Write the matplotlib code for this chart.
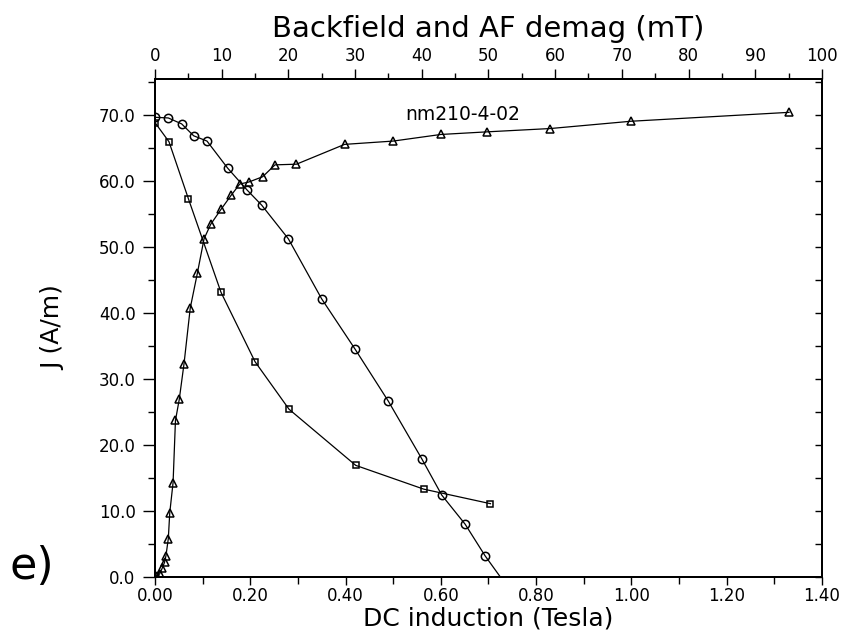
import matplotlib
matplotlib.use('Agg')
import matplotlib.pyplot as plt
from matplotlib.ticker import MultipleLocator, FormatStrFormatter

# IRM acquisition (DC induction, Tesla)
irm_field = [0.000, 0.005, 0.010, 0.015, 0.020, 0.023, 0.028, 0.031, 0.038, 0.043,
             0.051, 0.061, 0.074, 0.089, 0.103, 0.117, 0.139, 0.160, 0.178, 0.197,
             0.226, 0.252, 0.297, 0.398, 0.500, 0.600, 0.698, 0.830, 0.999, 1.331]
irm_j = [0.0, 0.1, 0.5, 1.3, 2.2, 3.2, 5.8, 9.7, 14.3, 23.7,
         26.9, 32.3, 40.7, 46.0, 51.2, 53.4, 55.7, 57.8, 59.5, 59.8,
         60.6, 62.4, 62.5, 65.5, 66.0, 67.0, 67.4, 67.9, 69.0, 70.35]

# Backfield (mT)
bf_field = [0, 2, 4, 5.8, 7.8, 10.9, 13.8, 16, 20, 25, 30, 35, 40, 43, 46.5, 49.5, 55]
bf_j = [69.6, 69.5, 68.6, 66.8, 66.0, 61.9, 58.6, 56.3, 51.2, 42.1, 34.5, 26.6,
        17.9, 12.4, 8.0, 3.2, -4.5]

# AF demag (mT)
af_field = [0, 2.1, 5, 9.9, 15, 20.1, 30.1, 40.3, 50.3]
af_j = [68.8, 65.9, 57.3, 43.1, 32.6, 25.4, 16.9, 13.3, 11.1]

fig = plt.figure(figsize=(8.45, 6.37), dpi=100)
ax = fig.add_axes([0.1834, 0.0942, 0.7893, 0.7818])
top = ax.twiny()
right = ax.twinx()

mk = dict(color='black', lw=0.9, mfc='none', mec='black', mew=1.1)
ax.plot(irm_field, irm_j, marker='^', ms=6, **mk)
top.plot(bf_field, bf_j, marker='o', ms=6, **mk)
top.plot(af_field, af_j, marker='s', ms=5, **mk)

ax.set_xlim(0, 1.40)
ax.set_ylim(0, 75.4)
top.set_xlim(0, 100)
top.set_ylim(0, 75.4)
right.set_ylim(0, 75.4)

ax.xaxis.set_major_locator(MultipleLocator(0.2))
ax.xaxis.set_minor_locator(MultipleLocator(0.1))
ax.xaxis.set_major_formatter(FormatStrFormatter('%.2f'))
ax.yaxis.set_major_locator(MultipleLocator(10))
ax.yaxis.set_minor_locator(MultipleLocator(5))
ax.yaxis.set_major_formatter(FormatStrFormatter('%.1f'))
top.xaxis.set_major_locator(MultipleLocator(10))
top.xaxis.set_minor_locator(MultipleLocator(5))
right.yaxis.set_major_locator(MultipleLocator(10))
right.yaxis.set_minor_locator(MultipleLocator(5))

ax.tick_params(axis='x', which='major', direction='out', length=6, width=1, pad=1, labelsize=12)
ax.tick_params(axis='x', which='minor', direction='out', length=5, width=1)
ax.tick_params(axis='y', which='major', direction='out', length=9, width=1, pad=5, labelsize=12)
ax.tick_params(axis='y', which='minor', direction='out', length=5, width=1)
top.tick_params(axis='x', which='major', direction='out', length=7, width=1, pad=3, labelsize=12)
top.tick_params(axis='x', which='minor', direction='out', length=4, width=1)
right.tick_params(axis='y', which='both', direction='in', length=5, width=1, labelright=False)

for a in (ax, top, right):
    for s in a.spines.values():
        s.set_linewidth(1.4)

ax.set_xlabel('DC induction (Tesla)', fontsize=18, labelpad=1)
ax.set_ylabel('J (A/m)', fontsize=18, labelpad=24)
top.set_xlabel('Backfield and AF demag (mT)', fontsize=21, labelpad=7)

ax.text(0.525, 70.0, 'nm210-4-02', fontsize=13.5, va='center', ha='left')
fig.text(0.038, 0.11, 'e)', fontsize=32, va='center', ha='center')

fig.savefig('out.png', dpi=100)
